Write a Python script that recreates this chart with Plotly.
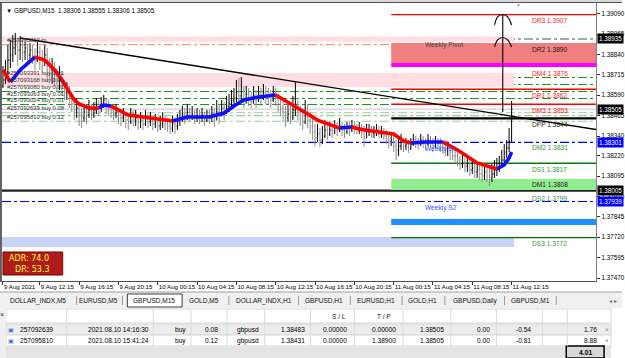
import pandas as pd
import plotly.graph_objects as go

W, H = 625, 358

# ---------------- data ----------------
title_symbol = "GBPUSD,M15"
title_ohlc = ["1.38306", "1.38555", "1.38306", "1.38505"]

first_bar = "2021-08-09 08:30"
open_first = 1.38647
close = [
    1.38684, 1.38733, 1.38806, 1.38837, 1.38880, 1.38917, 1.38868, 1.38898,
    1.38855, 1.38880, 1.38837, 1.38868, 1.38831, 1.38806, 1.38855, 1.38818,
    1.38794, 1.38837, 1.38769, 1.38745, 1.38757, 1.38714, 1.38684, 1.38696,
    1.38653, 1.38610, 1.38622, 1.38573, 1.38537, 1.38500, 1.38512, 1.38469,
    1.38451, 1.38487, 1.38469, 1.38500, 1.38475, 1.38500, 1.38524, 1.38512,
    1.38537, 1.38561, 1.38524, 1.38512, 1.38500, 1.38475, 1.38487, 1.38463,
    1.38451, 1.38475, 1.38438, 1.38426, 1.38463, 1.38438, 1.38451, 1.38426,
    1.38438, 1.38414, 1.38451, 1.38426, 1.38438, 1.38414, 1.38426, 1.38402,
    1.38414, 1.38438, 1.38414, 1.38402, 1.38389, 1.38414, 1.38402, 1.38426,
    1.38451, 1.38475, 1.38463, 1.38487, 1.38463, 1.38475, 1.38451, 1.38463,
    1.38451, 1.38469, 1.38438, 1.38463, 1.38451, 1.38475, 1.38438, 1.38487,
    1.38463, 1.38512, 1.38487, 1.38524, 1.38537, 1.38561, 1.38573, 1.38610,
    1.38586, 1.38635, 1.38561, 1.38598, 1.38573, 1.38549, 1.38586, 1.38561,
    1.38598, 1.38573, 1.38610, 1.38586, 1.38586, 1.38561, 1.38598, 1.38573,
    1.38537, 1.38512, 1.38487, 1.38451, 1.38475, 1.38451, 1.38500, 1.38537,
    1.38487, 1.38451, 1.38426, 1.38463, 1.38438, 1.38402, 1.38365, 1.38328,
    1.38353, 1.38316, 1.38340, 1.38377, 1.38353, 1.38377, 1.38365, 1.38389,
    1.38377, 1.38402, 1.38377, 1.38365, 1.38389, 1.38377, 1.38402, 1.38389,
    1.38377, 1.38389, 1.38365, 1.38328, 1.38365, 1.38377, 1.38353, 1.38365,
    1.38377, 1.38353, 1.38365, 1.38340, 1.38328, 1.38304, 1.38316, 1.38279,
    1.38255, 1.38279, 1.38304, 1.38279, 1.38291, 1.38267, 1.38291, 1.38316,
    1.38304, 1.38291, 1.38316, 1.38304, 1.38291, 1.38316, 1.38304, 1.38279,
    1.38304, 1.38291, 1.38279, 1.38267, 1.38255, 1.38267, 1.38242, 1.38218,
    1.38218, 1.38193, 1.38169, 1.38181, 1.38156, 1.38169, 1.38132, 1.38144,
    1.38120, 1.38132, 1.38107, 1.38095, 1.38120, 1.38095, 1.38083, 1.38107,
    1.38132, 1.38144, 1.38169, 1.38193, 1.38242, 1.38267, 1.38306, 1.38505,
]
high = [
    1.38769, 1.38806, 1.38898, 1.38929, 1.38959, 1.38972, 1.38941, 1.38953,
    1.38929, 1.38917, 1.38904, 1.38910, 1.38898, 1.38880, 1.38917, 1.38892,
    1.38868, 1.38898, 1.38880, 1.38818, 1.38818, 1.38794, 1.38757, 1.38769,
    1.38733, 1.38684, 1.38671, 1.38647, 1.38598, 1.38561, 1.38573, 1.38537,
    1.38512, 1.38537, 1.38524, 1.38561, 1.38537, 1.38549, 1.38573, 1.38561,
    1.38579, 1.38592, 1.38573, 1.38561, 1.38537, 1.38524, 1.38537, 1.38512,
    1.38500, 1.38512, 1.38487, 1.38475, 1.38512, 1.38500, 1.38500, 1.38475,
    1.38487, 1.38463, 1.38500, 1.38475, 1.38487, 1.38463, 1.38475, 1.38451,
    1.38463, 1.38487, 1.38463, 1.38451, 1.38438, 1.38463, 1.38451, 1.38475,
    1.38500, 1.38524, 1.38512, 1.38537, 1.38512, 1.38524, 1.38500, 1.38512,
    1.38500, 1.38512, 1.38487, 1.38500, 1.38500, 1.38524, 1.38512, 1.38561,
    1.38537, 1.38561, 1.38549, 1.38586, 1.38598, 1.38622, 1.38635, 1.38684,
    1.38696, 1.38702, 1.38647, 1.38647, 1.38635, 1.38610, 1.38647, 1.38622,
    1.38647, 1.38635, 1.38659, 1.38647, 1.38635, 1.38622, 1.38647, 1.38635,
    1.38598, 1.38573, 1.38561, 1.38524, 1.38537, 1.38524, 1.38586, 1.38671,
    1.38561, 1.38524, 1.38500, 1.38561, 1.38537, 1.38487, 1.38451, 1.38414,
    1.38414, 1.38389, 1.38402, 1.38438, 1.38414, 1.38426, 1.38414, 1.38438,
    1.38426, 1.38451, 1.38426, 1.38414, 1.38426, 1.38426, 1.38438, 1.38432,
    1.38414, 1.38426, 1.38414, 1.38402, 1.38414, 1.38414, 1.38402, 1.38402,
    1.38414, 1.38402, 1.38402, 1.38389, 1.38377, 1.38353, 1.38365, 1.38353,
    1.38316, 1.38340, 1.38353, 1.38328, 1.38328, 1.38316, 1.38328, 1.38353,
    1.38340, 1.38328, 1.38353, 1.38340, 1.38328, 1.38353, 1.38340, 1.38328,
    1.38340, 1.38328, 1.38328, 1.38316, 1.38304, 1.38304, 1.38291, 1.38267,
    1.38267, 1.38242, 1.38218, 1.38230, 1.38206, 1.38218, 1.38193, 1.38193,
    1.38181, 1.38181, 1.38169, 1.38156, 1.38169, 1.38156, 1.38144, 1.38169,
    1.38193, 1.38206, 1.38218, 1.38255, 1.38291, 1.38316, 1.38389, 1.38555,
]
low = [
    1.38635, 1.38659, 1.38714, 1.38757, 1.38794, 1.38837, 1.38769, 1.38806,
    1.38794, 1.38806, 1.38776, 1.38794, 1.38782, 1.38745, 1.38794, 1.38745,
    1.38733, 1.38769, 1.38671, 1.38684, 1.38659, 1.38647, 1.38610, 1.38622,
    1.38592, 1.38561, 1.38561, 1.38512, 1.38487, 1.38438, 1.38451, 1.38402,
    1.38389, 1.38426, 1.38414, 1.38451, 1.38438, 1.38451, 1.38475, 1.38463,
    1.38487, 1.38512, 1.38475, 1.38463, 1.38451, 1.38438, 1.38451, 1.38414,
    1.38402, 1.38426, 1.38389, 1.38377, 1.38414, 1.38402, 1.38402, 1.38377,
    1.38389, 1.38377, 1.38402, 1.38389, 1.38402, 1.38377, 1.38389, 1.38365,
    1.38377, 1.38389, 1.38377, 1.38365, 1.38353, 1.38365, 1.38353, 1.38377,
    1.38402, 1.38426, 1.38414, 1.38438, 1.38426, 1.38438, 1.38414, 1.38426,
    1.38414, 1.38426, 1.38402, 1.38426, 1.38414, 1.38426, 1.38396, 1.38438,
    1.38414, 1.38463, 1.38438, 1.38475, 1.38487, 1.38512, 1.38524, 1.38549,
    1.38537, 1.38561, 1.38512, 1.38537, 1.38524, 1.38512, 1.38537, 1.38512,
    1.38549, 1.38524, 1.38561, 1.38537, 1.38537, 1.38512, 1.38549, 1.38524,
    1.38487, 1.38463, 1.38426, 1.38396, 1.38426, 1.38414, 1.38438, 1.38463,
    1.38438, 1.38402, 1.38377, 1.38414, 1.38389, 1.38353, 1.38316, 1.38279,
    1.38304, 1.38273, 1.38291, 1.38328, 1.38316, 1.38340, 1.38328, 1.38353,
    1.38340, 1.38365, 1.38340, 1.38328, 1.38353, 1.38340, 1.38365, 1.38353,
    1.38353, 1.38353, 1.38328, 1.38273, 1.38328, 1.38340, 1.38328, 1.38328,
    1.38340, 1.38328, 1.38328, 1.38316, 1.38291, 1.38267, 1.38279, 1.38242,
    1.38193, 1.38218, 1.38255, 1.38242, 1.38255, 1.38236, 1.38255, 1.38279,
    1.38267, 1.38255, 1.38279, 1.38267, 1.38255, 1.38279, 1.38267, 1.38242,
    1.38267, 1.38255, 1.38242, 1.38230, 1.38218, 1.38218, 1.38193, 1.38193,
    1.38181, 1.38156, 1.38132, 1.38144, 1.38120, 1.38120, 1.38095, 1.38107,
    1.38083, 1.38083, 1.38071, 1.38058, 1.38071, 1.38058, 1.38034, 1.38058,
    1.38083, 1.38095, 1.38120, 1.38144, 1.38181, 1.38206, 1.38242, 1.38306,
]

# moving-average indicator vertices (bar index, price, direction of segment ending here)
ma_bars = [0, 3, 7, 13, 17, 21, 24, 27, 29, 31, 35, 39, 41, 44, 51, 60, 69, 75, 84, 90,
           94, 98, 104, 111, 116, 120, 124, 128, 132, 137, 142, 145, 153, 159, 163, 166,
           172, 179, 185, 193, 199, 201, 204, 206, 207]
ma_prices = [1.38745, 1.38671, 1.38745, 1.38824, 1.38806, 1.38745, 1.38684, 1.38610,
             1.38561, 1.38537, 1.38512, 1.38512, 1.38530, 1.38524, 1.38469, 1.38451,
             1.38432, 1.38457, 1.38457, 1.38481, 1.38524, 1.38561, 1.38579, 1.38592,
             1.38549, 1.38512, 1.38475, 1.38438, 1.38414, 1.38389, 1.38396, 1.38383,
             1.38365, 1.38353, 1.38310, 1.38297, 1.38304, 1.38304, 1.38255, 1.38175,
             1.38144, 1.38138, 1.38163, 1.38206, 1.38242]
ma_dir = ["", "dn", "up", "up", "dn", "dn", "dn", "dn", "dn", "dn", "dn", "dn", "up", "up",
          "dn", "dn", "dn", "up", "up", "up", "up", "up", "up", "up", "dn", "dn", "dn", "dn",
          "dn", "dn", "up", "dn", "dn", "dn", "dn", "dn", "up", "up", "dn", "dn", "dn", "dn",
          "up", "up", "up"]

xtick_times = ["2021-08-09 08:30", "2021-08-09 12:15", "2021-08-09 16:15", "2021-08-09 20:15",
               "2021-08-10 00:15", "2021-08-10 04:15", "2021-08-10 08:15", "2021-08-10 12:15",
               "2021-08-10 16:15", "2021-08-10 20:15", "2021-08-11 00:15", "2021-08-11 04:15",
               "2021-08-11 08:15", "2021-08-11 12:15"]
xtick_labels = ["9 Aug 2021", "9 Aug 12:15", "9 Aug 16:15", "9 Aug 20:15", "10 Aug 00:15",
                "10 Aug 04:15", "10 Aug 08:15", "10 Aug 12:15", "10 Aug 16:15", "10 Aug 20:15",
                "11 Aug 00:15", "11 Aug 04:15", "11 Aug 08:15", "11 Aug 12:15"]
ytick_vals = [1.39090, 1.38965, 1.38840, 1.38715, 1.38590, 1.38465, 1.38340, 1.38220,
              1.38095, 1.37970, 1.37845, 1.37720, 1.37595, 1.37470]
ytick_labels = ["1.39090", "1.38965", "1.38840", "1.38715", "1.38590", "1.38465", "1.38340",
                "1.38220", "1.38095", "1.37970", "1.37845", "1.37720", "1.37595", "1.37470"]

tag_prices = [1.38935, 1.38505, 1.38301, 1.38005, 1.37939]
tag_labels = ["1.38935", "1.38505", "1.38301", "1.38005", "1.37939"]
tag_colors = ["#000000", "#000000", "#0000ff", "#000000", "#0000ff"]

# daily pivot levels (start at current day)
day_start = "2021-08-11 00:00"
pivot_names = ["DR3", "DR2", "DM4", "DR1", "DM3", "DPP", "DM2", "DS1", "DM1", "DS2", "DS3"]
pivot_values = ["1.3907", "1.3890", "1.3876", "1.3862", "1.3853", "1.3844", "1.3831",
                "1.3817", "1.3808", "1.3799", "1.3772"]
pivot_levels = [1.39084, 1.38910, 1.38763, 1.38627, 1.38535, 1.38449, 1.38306, 1.38173,
                1.38077, 1.37993, 1.37717]
pivot_label_colors = ["#ff2020", "#202020", "#ff2020", "#ff2020", "#ff2020", "#202020",
                      "#2e9a3a", "#2e9a3a", "#202020", "#2e9a3a", "#2e9a3a"]
pivot_lines = [("DR3", "#ff0000", 1.3), ("DR1", "#ff0000", 1.3), ("DM3", "#ff0000", 1.3),
               ("DPP", "#000000", 2.2), ("DS1", "#0a7a0a", 1.4), ("DS3", "#0a6a0a", 1.3)]
day_boxes = [(1.38788, 1.38910, "#f08080"), (1.38763, 1.38788, "#ff00ff"),
             (1.38009, 1.38077, "#90ee90"), (1.37795, 1.37832, "#1e90ff")]

# weekly zones (end at the current bar)
zone_end = "2021-08-11 12:30"
weekly_zones = [(1.38918, 1.38950, "#ffdde2"), (1.38641, 1.38727, "#ffdde2"),
                (1.37660, 1.37721, "#c8d4f5")]
weekly_lines = [(1.38935, "#8a8a8a", "dashdot", 1.4, "Weekly Pivot", "#404040"),
                (1.38301, "#0000ff", "dashdot", 1.1, "Weekly S1", "#3a55ff"),
                (1.37939, "#0000ff", "dashdot", 1.1, "Weekly S2", "#3a55ff")]
black_hline = 1.38005
bid_price = 1.38505

# trade / order lines
tp_price = 1.38900
tp_label = "#257095810 tp"
order_prices = [1.38699, 1.38656, 1.38613, 1.38570, 1.38533]
order_labels = ["#257093391 buy 0.01", "#257093168 buy 0.01", "#257093080 buy 0.01",
                "#257093063 buy 0.01", "#257093024 buy 0.01"]
trade_prices = [1.38483, 1.38465, 1.38431]
trade_labels = ["#257092639 buy 0.08", "", "#257095810 buy 0.12"]

# trend line and hand-drawn arrow
trend_bars = [6.9, 241.4]
trend_prices = [1.38941, 1.38380]
arrow_bar = 203.4
arrow_prices = [1.38487, 1.39084]
caret_bars = [200.1, 201.3, 203.4, 205.4, 207.0]
caret1_prices = [1.39021, 1.39070, 1.39085, 1.39070, 1.39021]
caret2_prices = [1.38886, 1.38929, 1.38944, 1.38929, 1.38886]

adr_text = ["ADR: 74.0", "DR: 53.3"]

tabs = ["DOLLAR_INDX,M5", "EURUSD,M5", "GBPUSD,M15", "GOLD,M5", "DOLLAR_INDX,H1",
        "GBPUSD,H1", "EURUSD,H1", "GOLD,H1", "GBPUSD,Daily", "GBPUSD,M1"]
trade_rows = [
    ["257092639", "2021.08.10 14:16:30", "buy", "0.08", "gbpusd", "1.38483", "0.00000",
     "0.00000", "1.38505", "0.00", "-0.54", "1.76"],
    ["257095810", "2021.08.10 15:41:24", "buy", "0.12", "gbpusd", "1.38431", "0.00000",
     "1.38900", "1.38505", "0.00", "-0.81", "8.88"],
]
total_profit = "4.01"

# ---------------- build ----------------
bar = pd.Timedelta(minutes=15)
times = pd.date_range(first_bar, periods=len(close), freq="15min")
t0 = times[0]
opens = [open_first] + close[:-1]


def T(b):
    return (t0 + b * bar).strftime("%Y-%m-%d %H:%M:%S")


x_start = T(-0.4)
x_end = T(241.4)


def X(px):
    return px / W


def Y(py):
    return 1 - py / H


FONT = "Liberation Sans"
fig = go.Figure()

fig.add_trace(go.Ohlc(
    x=times, open=opens, high=high, low=low, close=close,
    increasing=dict(line=dict(color="#000000", width=1)),
    decreasing=dict(line=dict(color="#8c8c8c", width=1)),
    tickwidth=0.35, showlegend=False, hoverinfo="skip"))

# MA coloured segments
for d, col in (("up", "#1010ff"), ("dn", "#ff0000")):
    xs, ys = [], []
    for i in range(1, len(ma_bars)):
        if ma_dir[i] == d:
            if not (xs and xs[-1] == T(ma_bars[i - 1])):
                if xs:
                    xs.append(None)
                    ys.append(None)
                xs.append(T(ma_bars[i - 1]))
                ys.append(ma_prices[i - 1])
            xs.append(T(ma_bars[i]))
            ys.append(ma_prices[i])
    fig.add_trace(go.Scatter(x=xs, y=ys, mode="lines", line=dict(color=col, width=3.6),
                             showlegend=False, hoverinfo="skip"))

# trend line
fig.add_trace(go.Scatter(x=[T(b) for b in trend_bars], y=trend_prices, mode="lines",
                         line=dict(color="#000000", width=1.3), showlegend=False,
                         hoverinfo="skip"))
# arrow
fig.add_trace(go.Scatter(x=[T(arrow_bar), T(arrow_bar)], y=arrow_prices, mode="lines",
                         line=dict(color="#000000", width=1.1), showlegend=False,
                         hoverinfo="skip"))
for cp in (caret1_prices, caret2_prices):
    fig.add_trace(go.Scatter(x=[T(b) for b in caret_bars], y=cp, mode="lines",
                             line=dict(color="#000000", width=1.1, shape="spline"),
                             showlegend=False, hoverinfo="skip"))

shapes = []
for y0, y1, c in weekly_zones:
    shapes.append(dict(type="rect", xref="x", yref="y", x0=x_start, x1=zone_end, y0=y0,
                       y1=y1, fillcolor=c, line=dict(width=0), layer="below"))
for y0, y1, c in day_boxes:
    shapes.append(dict(type="rect", xref="x", yref="y", x0=day_start, x1=x_end, y0=y0,
                       y1=y1, fillcolor=c, line=dict(width=0), layer="below"))
for p, c, dash, w, _, _ in weekly_lines:
    shapes.append(dict(type="line", xref="x domain", yref="y", x0=0, x1=1, y0=p, y1=p,
                       line=dict(color=c, width=w, dash=dash), layer="below"))
shapes.append(dict(type="line", xref="x domain", yref="y", x0=0, x1=1, y0=tp_price,
                   y1=tp_price, line=dict(color="#ff9a78", width=1.3, dash="dashdot"),
                   layer="below"))
for p in order_prices:
    shapes.append(dict(type="line", xref="x domain", yref="y", x0=0, x1=1, y0=p, y1=p,
                       line=dict(color="#1a961a", width=1.1, dash="dashdot"), layer="below"))
for p in trade_prices:
    shapes.append(dict(type="line", xref="x domain", yref="y", x0=0, x1=1, y0=p, y1=p,
                       line=dict(color="#9ccc9c", width=1.1, dash="dashdot"), layer="below"))
shapes.append(dict(type="line", xref="x domain", yref="y", x0=0, x1=1, y0=bid_price,
                   y1=bid_price, line=dict(color="#c4c4c4", width=1), layer="below"))
shapes.append(dict(type="line", xref="x domain", yref="y", x0=0, x1=1, y0=black_hline,
                   y1=black_hline, line=dict(color="#202020", width=2.2), layer="below"))
lvl = dict(zip(pivot_names, pivot_levels))
for name, c, w in pivot_lines:
    shapes.append(dict(type="line", xref="x", yref="y", x0=day_start, x1=x_end, y0=lvl[name],
                       y1=lvl[name], line=dict(color=c, width=w), layer="below"))

shapes += [
    dict(type="rect", xref="paper", yref="paper", x0=0, x1=1, y0=Y(2), y1=1,
         fillcolor="#d8d8d8", line=dict(width=0)),
    dict(type="line", xref="paper", yref="paper", x0=X(1), x1=X(1), y0=Y(282), y1=Y(2),
         line=dict(color="#303030", width=1.5)),
    dict(type="line", xref="paper", yref="paper", x0=0, x1=1, y0=Y(2.5), y1=Y(2.5),
         line=dict(color="#505050", width=1)),
    dict(type="rect", xref="paper", yref="paper", x0=X(3), x1=X(63), y0=Y(275), y1=Y(252),
         fillcolor="#b01c1c", line=dict(color="#7a0000", width=1)),
    dict(type="rect", xref="paper", yref="paper", x0=0, x1=1, y0=Y(308), y1=Y(292),
         fillcolor="#f0f0f0", line=dict(width=0)),
    dict(type="line", xref="paper", yref="paper", x0=0, x1=1, y0=Y(292), y1=Y(292),
         line=dict(color="#a0a0a0", width=1)),
    dict(type="rect", xref="paper", yref="paper", x0=X(128), x1=X(183), y0=Y(307), y1=Y(294),
         fillcolor="#ffffff", line=dict(color="#404040", width=1)),
    dict(type="rect", xref="paper", yref="paper", x0=X(6), x1=X(614), y0=Y(323), y1=Y(309),
         fillcolor="#ffffff", line=dict(color="#d8d8d8", width=1)),
    dict(type="rect", xref="paper", yref="paper", x0=X(6), x1=X(614), y0=Y(335), y1=Y(324),
         fillcolor="#ececec", line=dict(color="#d8d8d8", width=1)),
    dict(type="rect", xref="paper", yref="paper", x0=X(6), x1=X(614), y0=Y(346), y1=Y(335),
         fillcolor="#ffffff", line=dict(color="#d8d8d8", width=1)),
    dict(type="rect", xref="paper", yref="paper", x0=X(6), x1=X(614), y0=Y(358), y1=Y(346),
         fillcolor="#e4e4e4", line=dict(width=0)),
    dict(type="rect", xref="paper", yref="paper", x0=X(569), x1=X(607), y0=Y(358), y1=Y(346),
         fillcolor="#d8d8d8", line=dict(color="#000000", width=1.5)),
    dict(type="rect", xref="paper", yref="paper", x0=0, x1=X(6), y0=0, y1=Y(308),
         fillcolor="#f0f0f0", line=dict(width=0)),
]
col_sep = [67, 154, 192, 228, 266, 312, 356, 405, 453, 499, 545, 570]
for sx in col_sep:
    shapes.append(dict(type="line", xref="paper", yref="paper", x0=X(sx), x1=X(sx),
                       y0=Y(346), y1=Y(309), line=dict(color="#dcdcdc", width=1)))
# tab separators
for sx in [77, 123, 230, 300, 352, 404, 447, 507, 559]:
    shapes.append(dict(type="line", xref="paper", yref="paper", x0=X(sx), x1=X(sx),
                       y0=Y(305), y1=Y(296), line=dict(color="#9a9a9a", width=1)))


def txt(x, y, text, size=6.6, color="#000000", xa="center", family=FONT, **kw):
    d = dict(xref="paper", yref="paper", x=x, y=y, text=text, showarrow=False,
             xanchor=xa, yanchor="middle", font=dict(family=family, size=size, color=color))
    d.update(kw)
    return d


ann = []
ann.append(txt(X(4), Y(10), "▼ " + title_symbol + "  " + " ".join(title_ohlc), 6.3,
               xa="left"))
ann.append(txt(X(521), Y(4.5), "▼", 5, "#a0a0a0"))
lab_x = T(214.3)
for n, v, p, c in zip(pivot_names, pivot_values, pivot_levels, pivot_label_colors):
    ann.append(dict(x=lab_x, y=p, xref="x", yref="y", text=f"{n} {v}", showarrow=False,
                    xanchor="left", yanchor="top", yshift=-0.5,
                    font=dict(family=FONT, size=6.6, color=c)))
for p, _, _, _, t, tc in weekly_lines:
    ann.append(dict(x=T(171.0), y=p, xref="x", yref="y", text=t, showarrow=False,
                    xanchor="left", yanchor="top", yshift=-0.5,
                    font=dict(family=FONT, size=6.6, color=tc)))
for p, t in zip(order_prices + trade_prices + [tp_price],
                order_labels + trade_labels + [tp_label]):
    if t:
        ann.append(dict(x=X(5), y=p, xref="paper", yref="y", text=t, showarrow=False,
                        xanchor="left", yanchor="bottom", yshift=-0.5,
                        font=dict(family=FONT, size=5.9, color="#303030")))
for p, t, c in zip(tag_prices, tag_labels, tag_colors):
    ann.append(dict(x=X(600), y=p, xref="paper", yref="y", text=t, showarrow=False,
                    xanchor="left", yanchor="middle", bgcolor=c, borderpad=1,
                    font=dict(family=FONT, size=6.3, color="#ffffff")))
ann.append(txt(X(7), Y(258), adr_text[0], 8, "#ffff30", xa="left", family="DejaVu Sans"))
ann.append(txt(X(13), Y(269), adr_text[1], 8, "#ffff30", xa="left", family="DejaVu Sans"))
tab_cx = [38, 99, 155, 205, 265, 326, 378, 425, 477, 533]
for t, cx in zip(tabs, tab_cx):
    ann.append(txt(X(cx), Y(300.5), t, 6.5, "#101010"))
ann.append(txt(X(616), Y(300.5), "◂ ▸", 6, "#707070"))
ann.append(txt(X(341), Y(316), "S / L", 6.5, "#202020"))
ann.append(txt(X(386), Y(316), "T / P", 6.5, "#202020"))
ann.append(txt(X(2.5), Y(314), "×", 7, "#303030"))
col_right = [None, 152, 189, 221, 262, 308, 351, 400, 448, 494, 536, 602]
for r, ry in zip(trade_rows, [329.5, 340.5]):
    ann.append(txt(X(11), Y(ry), "▣", 6, "#3c78c8", family="DejaVu Sans"))
    ann.append(txt(X(18), Y(ry), r[0], 6.6, xa="left"))
    for t, rx in zip(r[1:], col_right[1:]):
        ann.append(txt(X(rx), Y(ry), t, 6.6, xa="right"))
    ann.append(txt(X(610), Y(ry), "×", 6.5, "#808080"))
ann.append(txt(X(588), Y(352.5), "<b>" + total_profit + "</b>", 6.8))

fig.update_layout(
    width=W, height=H, margin=dict(l=0, r=0, t=0, b=0),
    paper_bgcolor="#ffffff", plot_bgcolor="#ffffff", showlegend=False,
    shapes=shapes, annotations=ann,
    xaxis=dict(type="date", range=[x_start, x_end], domain=[X(2), X(599)],
               rangeslider=dict(visible=False), showgrid=False, zeroline=False,
               tickvals=xtick_times, ticktext=xtick_labels, ticks="outside", ticklen=3,
               tickangle=0, tickcolor="#303030", ticklabelposition="outside right",
               tickfont=dict(family=FONT, size=6.2, color="#000000"),
               showline=True, linecolor="#505050", linewidth=1, fixedrange=True),
    yaxis=dict(range=[1.374516, 1.391556], domain=[Y(281), Y(3)], side="right",
               showgrid=False, zeroline=False, tickvals=ytick_vals, ticktext=ytick_labels,
               ticks="outside", ticklen=3, tickcolor="#303030",
               tickfont=dict(family=FONT, size=6.3, color="#000000"),
               showline=True, linecolor="#808080", linewidth=1, fixedrange=True),
)

fig.write_html("out.html")
